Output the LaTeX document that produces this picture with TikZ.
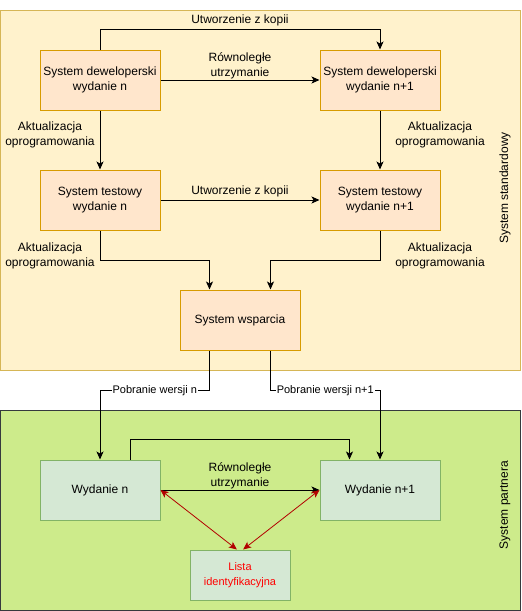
\documentclass[tikz,border=0pt]{standalone}
\usepackage{fontspec}
\setmainfont{Liberation Sans}
\usetikzlibrary{arrows.meta, positioning}
\definecolor{cstdfill}{HTML}{FFF2CC}
\definecolor{cstdline}{HTML}{D6B656}
\definecolor{cpartfill}{HTML}{CDEB8B}
\definecolor{cpartline}{HTML}{36393D}
\definecolor{cdev}{HTML}{FFE6CC}
\definecolor{cdevline}{HTML}{D79B00}
\definecolor{cgreen}{HTML}{D5E8D4}
\definecolor{cgreenline}{HTML}{82B366}
\definecolor{cred}{HTML}{B20000}
\definecolor{ctext}{HTML}{FF0000}

\begin{document}
\begin{tikzpicture}[
  x=1pt, y=-1pt,
  font=\fontsize{12}{15}\selectfont,
  area/.style={line width=1pt, anchor=center, inner sep=0pt},
  stdarea/.style={area, fill=cstdfill, draw=cstdline},
  partarea/.style={area, fill=cpartfill, draw=cpartline},
  box/.style={line width=1pt, minimum width=120pt, minimum height=60pt,
              align=center, inner sep=0pt, anchor=center},
  devbox/.style={box, fill=cdev, draw=cdevline},
  relbox/.style={box, fill=cgreen, draw=cgreenline},
  arr/.style={line width=1pt, -{Stealth[length=8pt, width=7pt, inset=2pt]}},
  redarr/.style={draw=cred, line width=0.8pt,
                 {Stealth[length=8pt, width=7pt, inset=2pt]}-{Stealth[length=8pt, width=7pt, inset=2pt]}},
  upd/.style={align=center},
  getlbl/.style={fill=white, inner sep=1pt, font=\fontsize{11}{13}\selectfont},
]
\useasboundingbox (0,0) rectangle (522,611);
% Areas
\node[stdarea, minimum width=520pt, minimum height=360pt] (std) at (260.5,190.5) {};
\node[partarea, minimum width=520pt, minimum height=200pt] (part) at (260.5,510.5) {};
\node[rotate=90] (stdlbl) at (505,188) {System standardowy};
\node[rotate=90] (partlbl) at (505,505) {System partnera};
% Standard system
\node[devbox] (devn) at (100,80) {System deweloperski\\wydanie n};
\node[devbox] (devn1) at (380,80) {System deweloperski\\wydanie n+1};
\node[devbox] (testn) at (100,200) {System testowy\\wydanie n};
\node[devbox] (testn1) at (380,200) {System testowy\\wydanie n+1};
\node[devbox] (wsp) at (240,320) {System wsparcia};
% Partner system
\node[relbox] (wydn) at (100,490) {Wydanie n};
\node[relbox] (wydn1) at (380,490) {Wydanie n+1};
\node[relbox, minimum width=100pt, minimum height=50pt, text=ctext,
      font=\fontsize{11}{15}\selectfont] (lista) at (240,575) {Lista\\identyfikacyjna};
% Connectors
\draw[arr] (devn.north) -- ++(0,-20) -| node[pos=0.25, above, inner sep=3pt] {Utworzenie z kopii} (devn1.north);
\draw[arr] (devn) -- node[midway, yshift=14pt, align=center] {Równoległe\\utrzymanie} (devn1);
\draw[arr] (devn) -- node[midway, upd, xshift=-50pt, yshift=5pt] {Aktualizacja\\oprogramowania} (testn);
\draw[arr] (devn1) -- node[midway, upd, xshift=60pt, yshift=5pt] {Aktualizacja\\oprogramowania} (testn1);
\draw[arr] (testn) -- node[midway, above, inner sep=3pt] {Utworzenie z kopii} (testn1);
\draw[arr] (testn.south) -- node[upd, xshift=-50pt, yshift=-10pt] {Aktualizacja\\oprogramowania} ++(0,30) -| (wsp.135);
\draw[arr] (testn1.south) -- node[upd, xshift=60pt, yshift=-10pt] {Aktualizacja\\oprogramowania} ++(0,30) -| (wsp.45);
\draw[arr] (wsp.225) -- ++(0,40) -| node[pos=0.25, getlbl] {Pobranie wersji n} (wydn.north);
\draw[arr] (wsp.315) -- ++(0,40) -| node[pos=0.25, getlbl] {Pobranie wersji n+1} (wydn1.north);
\draw[arr] (wydn.45) -- ++(0,-20) -| (wydn1.135);
\draw[arr] (wydn) -- node[midway, yshift=14.5pt, align=center] {Równoległe\\utrzymanie} (wydn1);
\draw[redarr] (wydn.east) -- (lista.97);
\draw[redarr] (wydn1.west) -- (lista.83);
\end{tikzpicture}
\end{document}
